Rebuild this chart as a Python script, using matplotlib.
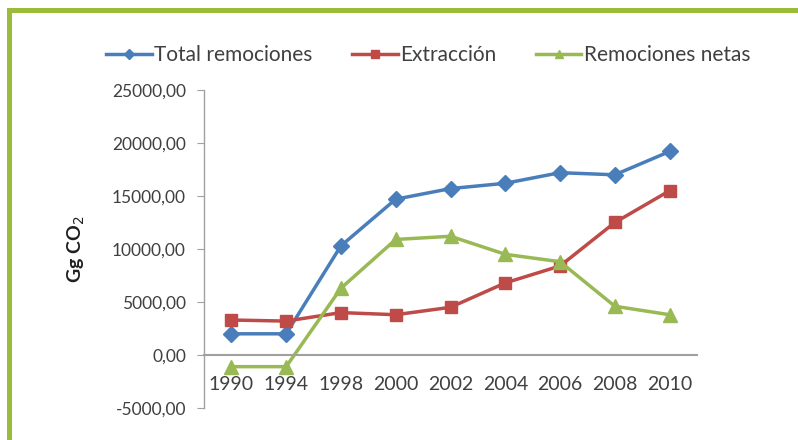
import matplotlib
matplotlib.use("Agg")
import matplotlib.pyplot as plt
from matplotlib.lines import Line2D
from matplotlib.patches import Rectangle

years = ["1990", "1994", "1998", "2000", "2002", "2004", "2006", "2008", "2010"]
total_remociones = [2000, 2000, 10300, 14700, 15700, 16200, 17200, 17000, 19200]
extraccion = [3300, 3200, 4000, 3800, 4500, 6800, 8400, 12500, 15500]
remociones_netas = [-1100, -1100, 6300, 10900, 11200, 9500, 8800, 4600, 3800]
yticks = [-5000, 0, 5000, 10000, 15000, 20000, 25000]

plt.rcParams['font.family'] = ['Lato', 'DejaVu Sans']

fig = plt.figure(figsize=(7.98, 4.4), dpi=100)
fig.patch.set_facecolor('white')

# green frame (top and left)
border = '#9BBB3B'
fig.add_artist(Rectangle((7/798, 1 - 13/440), 1 - 7/798, 5/440, transform=fig.transFigure,
                         facecolor=border, edgecolor='none'))
fig.add_artist(Rectangle((7/798, 0), 5/798, 1 - 8/440, transform=fig.transFigure,
                         facecolor=border, edgecolor='none'))

ax = fig.add_axes([204/798, 1 - 408/440, (697 - 204)/798, (408 - 90)/440])
x = list(range(len(years)))

blue = '#4A7EBB'
red = '#BE4B48'
green = '#98B954'

ax.plot(x, total_remociones, color=blue, lw=2.5, marker='D', ms=8, mec=blue, mfc=blue)
ax.plot(x, extraccion, color=red, lw=2.5, marker='s', ms=9, mec=red, mfc=red)
ax.plot(x, remociones_netas, color=green, lw=2.5, marker='^', ms=10, mec=green, mfc=green)

ax.set_xlim(-0.5, len(years) - 0.5)
ax.set_ylim(-5000, 25000)
ax.set_yticks(yticks)
ax.set_yticklabels([f"{v:.2f}".replace('.', ',') for v in yticks])
ax.set_xticks(x)
ax.set_xticklabels(years)

for s in ['top', 'right']:
    ax.spines[s].set_visible(False)
ax.spines['left'].set_color('#A0A0A0')
ax.spines['bottom'].set_color('#A0A0A0')
ax.spines['bottom'].set_position(('data', 0))
ax.spines['left'].set_linewidth(1.0)
ax.spines['bottom'].set_linewidth(1.5)

ax.tick_params(axis='y', length=5, color='#A0A0A0', labelsize=12.5, labelcolor='#404040', pad=8)
ax.tick_params(axis='x', length=0, labelsize=14, labelcolor='#404040', pad=15)

ax.set_ylabel("Gg CO$_2$", fontsize=14, fontweight='bold', color='#202020')
ax.yaxis.set_label_coords(-0.238, 0.5)

handles = [
    Line2D([], [], color=blue, lw=2.5, marker='D', ms=5),
    Line2D([], [], color=red, lw=2.5, marker='s', ms=6),
    Line2D([], [], color=green, lw=2.5, marker='^', ms=6),
]
fig.legend(handles, ["Total remociones", "Extracción", "Remociones netas"],
           loc='center', bbox_to_anchor=(428/798, 1 - 55/440), ncol=3, frameon=False,
           fontsize=15, labelcolor='#404040', handlelength=2.2, handletextpad=0.1,
           columnspacing=1.9)

fig.savefig("out.png", dpi=100, facecolor='white')
